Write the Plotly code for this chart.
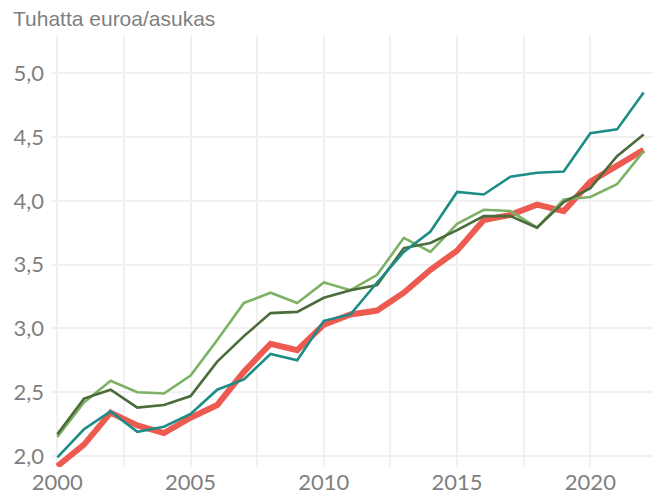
import plotly.graph_objects as go

years = list(range(2000, 2023))

red = [1.92, 2.09, 2.34, 2.24, 2.18, 2.30, 2.40, 2.66, 2.88, 2.83, 3.03, 3.11, 3.14,
       3.28, 3.46, 3.61, 3.85, 3.89, 3.97, 3.92, 4.15, 4.28, 4.40]
teal = [1.99, 2.21, 2.35, 2.19, 2.23, 2.33, 2.52, 2.60, 2.80, 2.75, 3.06, 3.11, 3.36,
        3.60, 3.76, 4.07, 4.05, 4.19, 4.22, 4.23, 4.53, 4.56, 4.85]
dark_green = [2.17, 2.45, 2.52, 2.38, 2.40, 2.47, 2.74, 2.94, 3.12, 3.13, 3.24, 3.30, 3.34,
              3.63, 3.67, 3.77, 3.88, 3.88, 3.79, 3.99, 4.10, 4.35, 4.52]
light_green = [2.15, 2.42, 2.59, 2.50, 2.49, 2.63, 2.91, 3.20, 3.28, 3.20, 3.36, 3.30, 3.42,
               3.71, 3.60, 3.82, 3.93, 3.92, 3.79, 4.01, 4.03, 4.13, 4.39]

y_ticks = [2.0, 2.5, 3.0, 3.5, 4.0, 4.5, 5.0]
y_labels = ["2,0", "2,5", "3,0", "3,5", "4,0", "4,5", "5,0"]
x_ticks = [2000, 2005, 2010, 2015, 2020]

fig = go.Figure()
fig.add_trace(go.Scatter(x=years, y=red, mode="lines", line=dict(color="#ec5a50", width=6), name="red"))
fig.add_trace(go.Scatter(x=years, y=light_green, mode="lines", line=dict(color="#7db266", width=2.6), name="lg"))
fig.add_trace(go.Scatter(x=years, y=dark_green, mode="lines", line=dict(color="#4a6b3a", width=2.6), name="dg"))
fig.add_trace(go.Scatter(x=years, y=teal, mode="lines", line=dict(color="#1e8c86", width=2.6), name="teal"))

fig.update_layout(
    width=653, height=490,
    margin=dict(l=44, r=4, t=27, b=31, autoexpand=False),
    paper_bgcolor="white", plot_bgcolor="white",
    showlegend=False,
    font=dict(family="Lato, sans-serif", color="#7f7f7f", size=22),
    annotations=[dict(text="Tuhatta euroa/asukas", x=0, xref="paper", xanchor="left",
                      y=1, yref="paper", yanchor="bottom", xshift=-41, yshift=3, showarrow=False,
                      font=dict(family="Liberation Sans, Arial, sans-serif", size=21, color="#7f7f7f"))],
)
fig.update_xaxes(range=[1999.8, 2022.5], tickvals=x_ticks, ticktext=[str(t) for t in x_ticks],
                 showgrid=True, gridcolor="#f0f0f0", gridwidth=1.5, zeroline=False, showline=False,
                 ticks="", ticklen=0, automargin=False,
                 minor=dict(tickvals=[2002.5, 2007.5, 2012.5, 2017.5], showgrid=True,
                            gridcolor="#f0f0f0", gridwidth=1.5))
fig.update_yaxes(range=[1.914, 5.30], tickvals=y_ticks, ticktext=y_labels,
                 showgrid=True, gridcolor="#f0f0f0", gridwidth=1.5, zeroline=False, showline=False,
                 ticks="", ticklen=0, automargin=False, ticklabelstandoff=7)

fig.write_html("out.html")
